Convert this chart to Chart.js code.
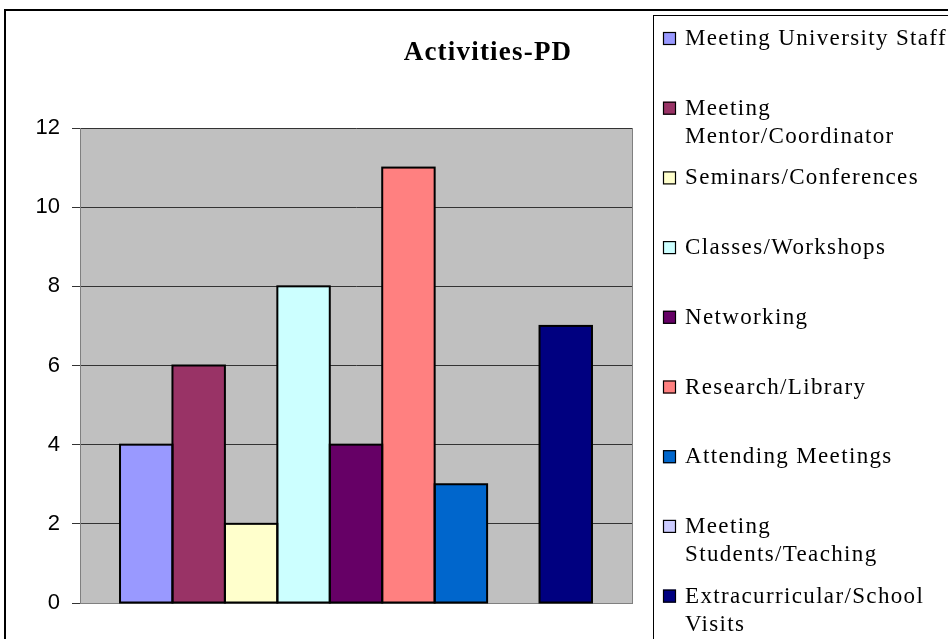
<!DOCTYPE html>
<html>
<head>
<meta charset="utf-8">
<script src="https://cdn.jsdelivr.net/npm/chart.js@4/dist/chart.umd.min.js"></script>
<style>
  html, body { margin: 0; padding: 0; background: #fff; }
  #wrap { width: 948px; height: 639px; }
</style>
</head>
<body>
<div id="wrap"><canvas id="myChart" width="948" height="639"></canvas></div>
<script>
const chartTitle = 'Activities-PD';
const categories = [''];
const seriesNames = [
  'Meeting University Staff',
  'Meeting Mentor/Coordinator',
  'Seminars/Conferences',
  'Classes/Workshops',
  'Networking',
  'Research/Library',
  'Attending Meetings',
  'Meeting Students/Teaching',
  'Extracurricular/School Visits'
];
const seriesValues = [4, 6, 2, 8, 4, 11, 3, 0, 7];
const seriesColors = ['#9999FF', '#993366', '#FFFFCC', '#CCFFFF', '#660066', '#FF8080', '#0066CC', '#CCCCFF', '#000080'];
const yTicks = [0, 2, 4, 6, 8, 10, 12];

// background of the page and the grey plot area
const plotBackground = {
  id: 'plotBackground',
  beforeDraw(chart) {
    const {ctx, chartArea: a} = chart;
    ctx.save();
    ctx.fillStyle = '#fff';
    ctx.fillRect(0, 0, chart.width, chart.height);
    ctx.fillStyle = '#C0C0C0';
    ctx.fillRect(a.left, a.top, a.right - a.left, a.bottom - a.top);
    ctx.restore();
  }
};

// black outline centred on each bar edge (like Excel draws it)
const barOutlines = {
  id: 'barOutlines',
  afterDatasetsDraw(chart) {
    const {ctx} = chart;
    ctx.save();
    ctx.strokeStyle = '#000';
    ctx.lineWidth = 2;
    chart.data.datasets.forEach((ds, i) => {
      chart.getDatasetMeta(i).data.forEach(bar => {
        const h = bar.base - bar.y;
        if (Math.abs(h) < 0.5) return;
        ctx.strokeRect(bar.x - bar.width / 2, bar.y, bar.width, h);
      });
    });
    ctx.restore();
  }
};

// frame, title and the boxed legend on the right
const decorations = {
  id: 'decorations',
  afterDraw(chart) {
    const {ctx, chartArea: a} = chart;
    ctx.save();
    // right edge of plot
    ctx.strokeStyle = '#808080';
    ctx.lineWidth = 1;
    ctx.beginPath();
    ctx.moveTo(a.right + 0.5, a.top);
    ctx.lineTo(a.right + 0.5, a.bottom);
    ctx.stroke();

    // outer chart frame
    ctx.strokeStyle = '#000';
    ctx.lineWidth = 2;
    ctx.beginPath();
    ctx.moveTo(chart.width + 2, 10);
    ctx.lineTo(5, 10);
    ctx.lineTo(5, chart.height + 2);
    ctx.stroke();

    // title
    ctx.fillStyle = '#000';
    ctx.font = 'bold 27px "Liberation Serif"';
    ctx.letterSpacing = '1.2px';
    ctx.textAlign = 'center';
    ctx.textBaseline = 'alphabetic';
    ctx.fillText(chartTitle, 488, 60);

    // legend box
    ctx.lineWidth = 1;
    ctx.strokeRect(653.5, 15.5, 400, 700);

    ctx.font = '23px "Liberation Serif"';
    ctx.letterSpacing = '1.35px';
    ctx.textAlign = 'left';
    ctx.textBaseline = 'middle';
    const maxW = 272;
    chart.data.datasets.forEach((ds, i) => {
      const y = 38 + i * 69.7;
      ctx.fillStyle = ds.backgroundColor;
      ctx.fillRect(663, y - 6, 13, 13);
      ctx.strokeStyle = '#000';
      ctx.lineWidth = 1.2;
      ctx.strokeRect(663.5, y - 5.5, 12, 12);
      // wrap label
      const words = ds.label.split(' ');
      const lines = [];
      let cur = '';
      words.forEach(w => {
        const t = cur ? cur + ' ' + w : w;
        if (cur && ctx.measureText(t).width > maxW) {
          lines.push(cur);
          cur = w;
        } else {
          cur = t;
        }
      });
      lines.push(cur);
      ctx.fillStyle = '#000';
      lines.forEach((ln, k) => ctx.fillText(ln, 685, y + 1 + k * 28.5));
    });
    ctx.restore();
  }
};

const $ctx = document.getElementById('myChart');
const myChart = new Chart($ctx, {
  type: 'bar',
  data: {
    labels: categories,
    datasets: seriesNames.map((name, i) => ({
      label: name,
      data: [seriesValues[i]],
      backgroundColor: seriesColors[i],
      borderWidth: 0,
      barPercentage: 1,
      categoryPercentage: 0.855
    }))
  },
  options: {
    responsive: false,
    animation: false,
    devicePixelRatio: 1,
    layout: {padding: {left: 4, top: 128, right: 316, bottom: 36}},
    plugins: {
      legend: {display: false},
      title: {display: false},
      tooltip: {enabled: false}
    },
    scales: {
      x: {
        grid: {display: false},
        ticks: {display: false},
        border: {color: '#808080', width: 1},
        afterFit: s => { s.height = 0; }
      },
      y: {
        min: 0,
        max: 12,
        afterBuildTicks: s => { s.ticks = yTicks.map(v => ({value: v})); },
        ticks: {
          color: '#000',
          padding: 12,
          font: {family: 'Liberation Sans', size: 22}
        },
        grid: {color: '#333', tickColor: '#333', tickLength: 8, lineWidth: 1},
        border: {color: '#808080', width: 1},
        afterFit: s => { s.width = 76; }
      }
    }
  },
  plugins: [plotBackground, barOutlines, decorations]
});
</script>
</body>
</html>
